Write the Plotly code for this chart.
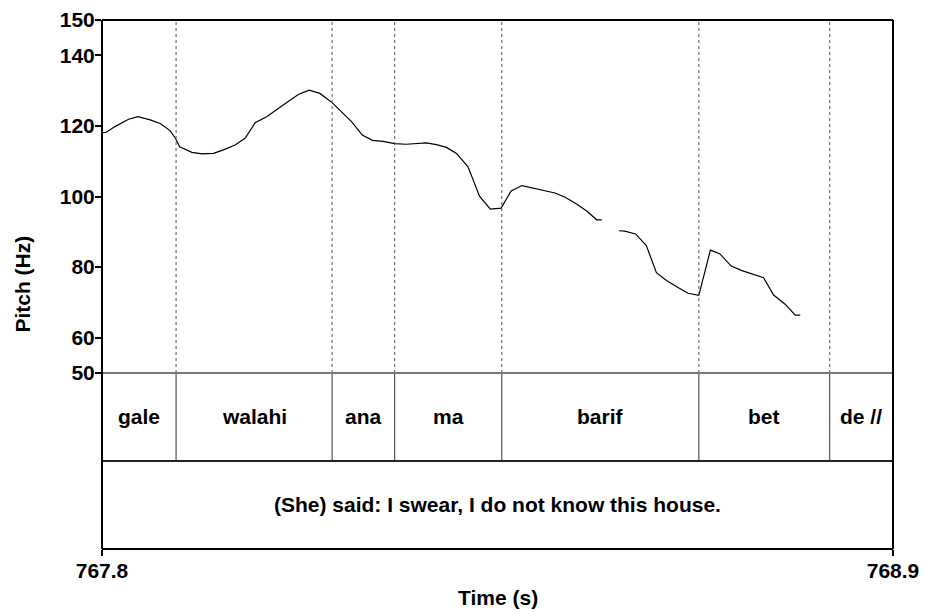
import plotly.graph_objects as go

# ---- data ----
time_s = [767.801, 767.806, 767.818, 767.837, 767.850, 767.867, 767.881, 767.895, 767.902, 767.908,
          767.925, 767.939, 767.955, 767.969, 767.985, 767.999, 768.013, 768.029, 768.052, 768.073,
          768.088, 768.103, 768.120, 768.147, 768.162, 768.176, 768.191, 768.207, 768.223, 768.251,
          768.265, 768.279, 768.293, 768.309, 768.325, 768.340, 768.355, 768.369, 768.384, 768.400,
          768.416, 768.430, 768.444, 768.460, 768.474, 768.488, 768.495,
          768.507,
          768.519, 768.527, 768.542, 768.557, 768.571, 768.585, 768.601, 768.615, 768.630, 768.646,
          768.659, 768.675, 768.690, 768.706, 768.720, 768.734, 768.750, 768.764, 768.771]
pitch_hz = [118.1, 118.2, 119.8, 121.9, 122.6, 121.7, 120.7, 118.6, 116.5, 114.1,
            112.5, 112.1, 112.2, 113.2, 114.6, 116.5, 120.9, 122.6, 125.9, 128.9,
            130.1, 129.2, 126.6, 121.2, 117.4, 115.9, 115.6, 115.0, 114.8, 115.2,
            114.7, 113.9, 112.2, 108.4, 100.1, 96.4, 96.7, 101.6, 103.1, 102.3,
            101.6, 101.0, 99.8, 97.9, 95.9, 93.4, 93.4,
            None,
            90.3, 90.2, 89.4, 86.1, 78.4, 76.2, 74.2, 72.6, 72.0, 84.8,
            83.8, 80.3, 79.0, 78.0, 77.0, 72.1, 69.5, 66.4, 66.4]

word_bounds = [767.8, 767.903, 768.120, 768.207, 768.356, 768.630, 768.812, 768.9]
words = ["gale", "walahi", "ana", "ma", "barif", "bet", "de //"]
translation = "(She) said: I swear, I do not know this house."

y_ticks = [50, 60, 80, 100, 120, 140, 150]
x_ticks = [767.8, 768.9]
x_tick_text = ["767.8", "768.9"]
x_range = [767.8, 768.9]
y_range = [50, 150]

# ---- layout constants ----
FONT = "Liberation Sans, Arial, Helvetica, sans-serif"
FS = 21
PITCH_BOTTOM = 0.3327
TIER_MID = 0.1664


def bold(s):
    return "<b>" + s + "</b>"


fig = go.Figure()
fig.add_trace(go.Scatter(x=time_s, y=pitch_hz, mode="lines",
                         line=dict(color="black", width=1.2),
                         connectgaps=False, hoverinfo="skip", showlegend=False))

shapes = []
for b in word_bounds[1:-1]:
    shapes.append(dict(type="line", xref="x", yref="paper", x0=b, x1=b,
                       y0=PITCH_BOTTOM, y1=1,
                       line=dict(color="#555555", width=1, dash="dot")))
    shapes.append(dict(type="line", xref="x", yref="paper", x0=b, x1=b,
                       y0=TIER_MID, y1=PITCH_BOTTOM,
                       line=dict(color="#333333", width=1)))
shapes.append(dict(type="line", xref="paper", yref="paper", x0=0, x1=1,
                   y0=PITCH_BOTTOM, y1=PITCH_BOTTOM, line=dict(color="#777777", width=2)))
shapes.append(dict(type="line", xref="paper", yref="paper", x0=0, x1=1,
                   y0=TIER_MID, y1=TIER_MID, line=dict(color="#222222", width=2)))
for (x0, x1, y0, y1) in [(0, 1, 1, 1), (0, 0, 0, 1), (1, 1, 0, 1), (0, 1, 0, 0)]:
    shapes.append(dict(type="line", xref="paper", yref="paper", x0=x0, x1=x1, y0=y0, y1=y1,
                       line=dict(color="black", width=2)))

annotations = []
for i, w in enumerate(words):
    xm = (word_bounds[i] + word_bounds[i + 1]) / 2
    annotations.append(dict(x=xm, y=(TIER_MID + PITCH_BOTTOM) / 2, xref="x", yref="paper",
                            text=bold(w), showarrow=False, xanchor="center", yanchor="middle",
                            font=dict(family=FONT, size=FS, color="black")))
annotations.append(dict(x=0.5, y=TIER_MID / 2, xref="paper", yref="paper",
                        text=bold(translation), showarrow=False,
                        xanchor="center", yanchor="middle",
                        font=dict(family=FONT, size=FS, color="black")))
annotations.append(dict(x=-0.101, y=0.5, xref="paper", yref="paper", text=bold("Pitch (Hz)"),
                        textangle=-90, showarrow=False, xanchor="center", yanchor="middle",
                        font=dict(family=FONT, size=FS, color="black")))
annotations.append(dict(x=0.5, y=-0.091, xref="paper", yref="paper", text=bold("Time (s)"),
                        showarrow=False, xanchor="center", yanchor="middle",
                        font=dict(family=FONT, size=FS, color="black")))

fig.update_layout(
    width=925, height=613,
    margin=dict(l=102, r=32, t=20, b=64),
    paper_bgcolor="white", plot_bgcolor="white",
    font=dict(family=FONT, size=FS, color="black"),
    shapes=shapes, annotations=annotations,
    xaxis=dict(range=x_range, tickvals=x_ticks, ticktext=[bold(t) for t in x_tick_text],
               ticks="outside", ticklen=6, tickcolor="black", tickwidth=1.5,
               ticklabelstandoff=-3,
               showgrid=False, zeroline=False, showline=False, automargin=False,
               anchor="free", position=0,
               tickfont=dict(family=FONT, size=FS, color="black")),
    yaxis=dict(range=y_range, domain=[PITCH_BOTTOM, 1], tickvals=y_ticks,
               ticktext=[bold(str(v)) for v in y_ticks],
               ticks="outside", ticklen=6, tickcolor="black", tickwidth=1.5,
               ticklabelstandoff=-4,
               showgrid=False, zeroline=False, showline=False, automargin=False,
               tickfont=dict(family=FONT, size=FS, color="black")),
)

fig.write_html("out.html", config={"displayModeBar": False},
               post_script="document.body.style.margin='0';document.body.style.padding='0';")
